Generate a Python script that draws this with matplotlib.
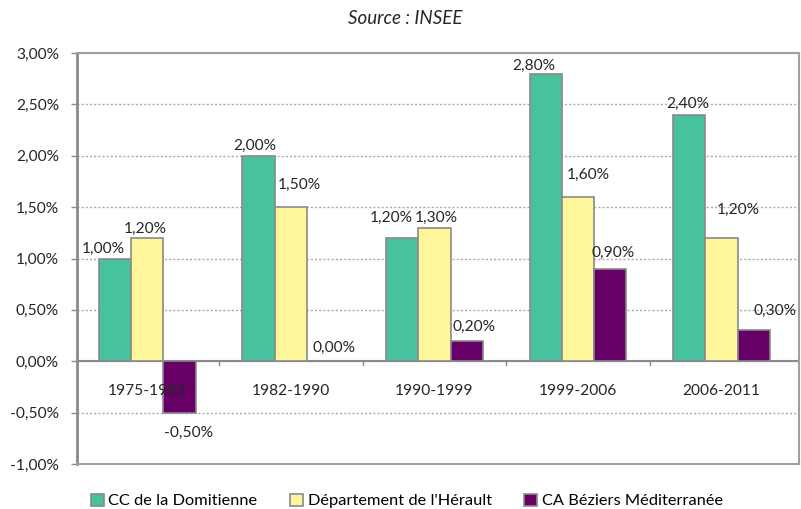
import matplotlib.pyplot as plt
import numpy as np

periods = ['1975-1982', '1982-1990', '1990-1999', '1999-2006', '2006-2011']
series_names = ['CC de la Domitienne', "Département de l'Hérault", 'CA Béziers Méditerranée']
domitienne = [1.00, 2.00, 1.20, 2.80, 2.40]
herault = [1.20, 1.50, 1.30, 1.60, 1.20]
beziers = [-0.50, 0.00, 0.20, 0.90, 0.30]
yticks = [-1.0, -0.5, 0.0, 0.5, 1.0, 1.5, 2.0, 2.5, 3.0]

colors = ['#48C29E', '#FFF59B', '#660066']
# label offsets in pixels (dx, dy) from the bar end, per series / period
label_offsets = [
    [(-12, 10), (-4, 10), (-11, 20), (-12, 8), (-1, 11)],
    [(-2, 9), (8, 22), (2, 10), (10, 22), (17, 28)],
    [(9, -20), (11, 13), (7, 14), (3, 16), (21, 20)],
]

plt.rcParams['font.family'] = ['Lato', 'DejaVu Sans']
fig = plt.figure(figsize=(8.01, 5.09), dpi=100)
ax = fig.add_axes([77 / 801, 45 / 509, 722 / 801, 411 / 509])

x = np.arange(len(periods))
w = 0.225
for k, vals in enumerate([domitienne, herault, beziers]):
    bars = ax.bar(x + (k - 1) * w, vals, w, color=colors[k], edgecolor='#8a8a8a',
                  linewidth=1.2, label=series_names[k], zorder=3)
    for i, (b, v) in enumerate(zip(bars, vals)):
        dx, dy = label_offsets[k][i]
        ax.annotate(f"{v:.2f}%".replace('.', ','), (b.get_x() + w / 2, v),
                    xytext=(dx, dy), textcoords='offset pixels',
                    ha='center', va='center', fontsize=11.2, color='#262626', zorder=4)

ax.set_xlim(-0.49, 4.54)
ax.set_ylim(-1.0, 3.0)
ax.set_yticks(yticks)
ax.set_yticklabels([f"{t:.2f}%".replace('.', ',') for t in yticks], fontsize=11.2, color='#262626')
ax.set_xticks([])
ax.grid(axis='y', linestyle=(0, (1.5, 1.5)), color='#aaaaaa', linewidth=1, zorder=0)

for s in ['top', 'right', 'bottom']:
    ax.spines[s].set_color('#a0a0a0')
    ax.spines[s].set_linewidth(1.5)
ax.spines['left'].set_color('#8a8a8a')
ax.spines['left'].set_linewidth(2)
ax.tick_params(axis='y', length=4, width=1, color='#8a8a8a', pad=9)

# zero axis line with category separators and labels
ax.axhline(0, color='#8a8a8a', linewidth=1.5, zorder=2)
for i in range(1, len(periods)):
    ax.plot([i - 0.5, i - 0.5], [0, -0.04], color='#8a8a8a', linewidth=1, zorder=2)
for i, p in enumerate(periods):
    ax.annotate(p, (i, 0), xytext=(0, -30), textcoords='offset pixels',
                ha='center', va='center', fontsize=11.2, color='#262626', zorder=5)

fig.text(405 / 801, 1 - 19 / 509, 'Source : INSEE', ha='center', va='center',
         fontsize=13.5, style='italic', color='#262626')

fig.legend(loc='center', bbox_to_anchor=(407 / 801, 1 - 501 / 509), ncol=3,
           frameon=False, fontsize=11.8, handlelength=0.75, handleheight=0.75,
           columnspacing=2.0, handletextpad=0.3)

fig.savefig('out.png', dpi=100)
